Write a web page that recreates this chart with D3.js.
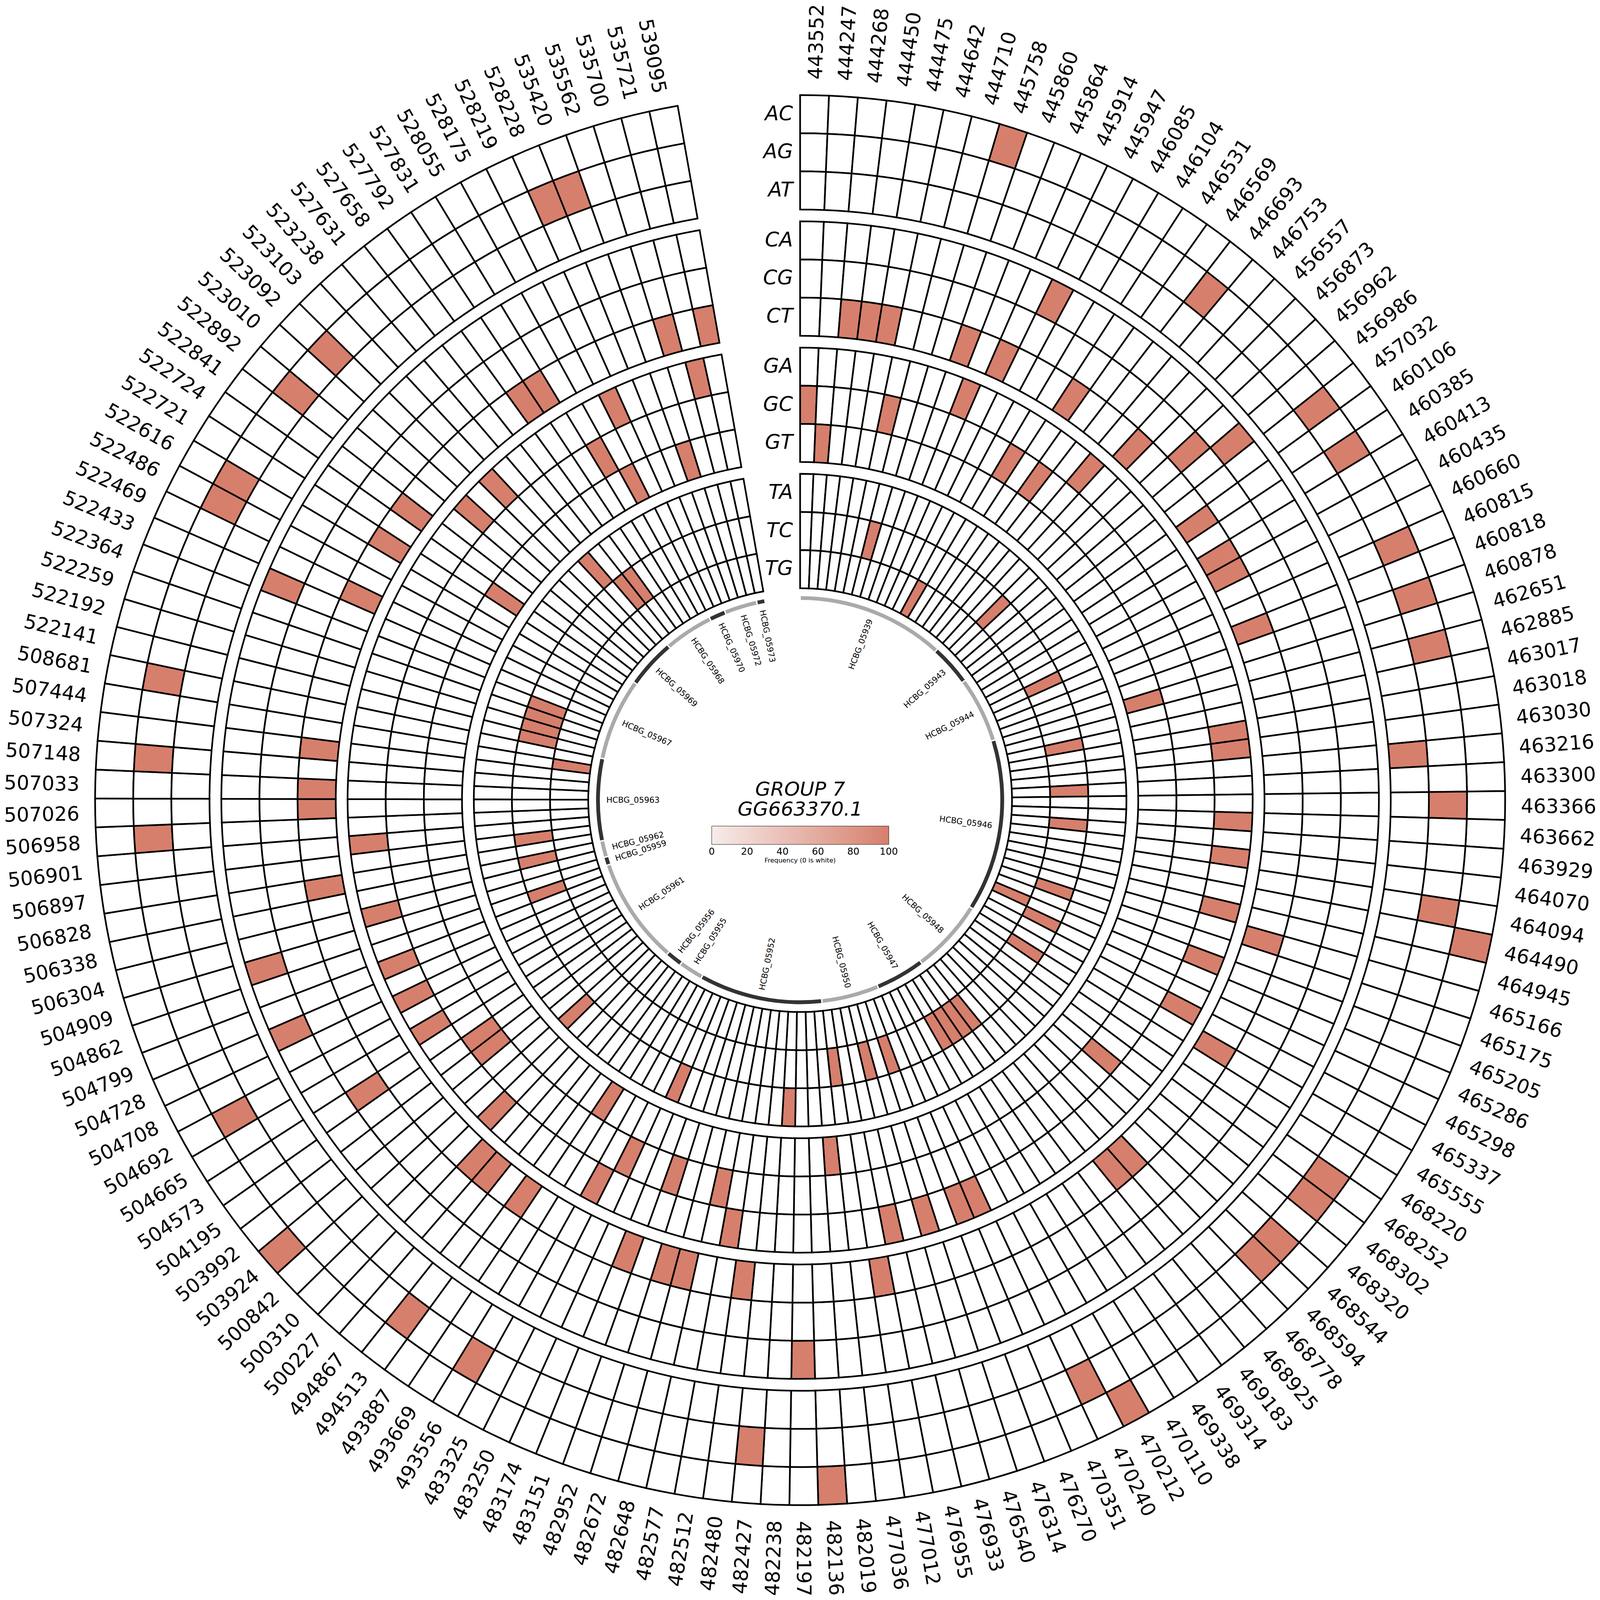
<!DOCTYPE html>
<html>
<head>
<meta charset="utf-8">
<script src="https://cdn.jsdelivr.net/npm/d3@7"></script>
<style>
html,body{margin:0;padding:0;background:#fff;width:100%;height:100%;overflow:hidden}
#chart{width:100vw;height:100vh}
svg{display:block;width:100vw;height:100vh}
text{font-family:"DejaVu Sans";fill:#000}
</style>
</head>
<body>
<div id="chart"></div>
<script>
// One frequency-100 substitution per position, in clockwise order.
const positions = [443552,444247,444268,444450,444475,444642,444710,445758,445860,445864,445914,445947,446085,446104,446531,446569,446693,446753,456557,456873,456962,456986,457032,460106,460385,460413,460435,460660,460815,460818,460878,462651,462885,463017,463018,463030,463216,463300,463366,463662,463929,464070,464094,464490,464945,465166,465175,465205,465286,465298,465337,465555,468220,468252,468302,468320,468544,468594,468778,468925,469183,469314,469338,470110,470212,470240,470351,476270,476314,476540,476933,476955,477012,477036,482019,482136,482197,482238,482427,482480,482512,482577,482648,482672,482952,483151,483174,483250,483325,493556,493669,493887,494513,494867,500227,500310,500842,503924,503992,504195,504573,504665,504692,504708,504728,504799,504862,504909,506304,506338,506828,506897,506901,506958,507026,507033,507148,507324,507444,508681,522141,522192,522259,522364,522433,522469,522486,522616,522721,522724,522841,522892,523010,523092,523103,523238,527631,527658,527792,527831,528055,528175,528219,528228,535420,535562,535700,535721,539095];
const substitutions = ["GC","GT","CT","CT","CT","GC","TC","AC","CT","GA","CT","CA","TG","GC","CT","GC","AG","GA","CT","TC","CG","CA","AG","CT","AG","CT","CT","TC","AG","CT","AG","GT","AG","TC","GA","GA","AT","TC","AG","GA","TC","GA","AG","AC","GA","CT","TC","GA","TG","TC","GA","CT","TC","AG","AG","GC","AG","AG","CT","CT","TC","TC","TC","TC","AC","AG","GA","GA","TC","GA","TC","GA","CT","TC","GT","AC","CA","TA","AG","CT","GA","GC","CT","CT","GC","CT","TA","GC","GA","AG","GT","CT","AG","CT","CT","GA","TA","AC","GC","GC","CG","GA","AG","GA","CA","GA","TC","CA","GA","TC","CT","TC","GA","AG","CT","CT","AG","CT","TG","AG","TC","TC","TC","TC","CA","CT","AG","AG","CT","GT","CT","AG","GA","AG","GA","TA","TC","TC","CT","CT","GC","GT","GA","AG","AG","GT","CT","GA","CT"];
const frequency = 100;
const rowGroups = [["AC","AG","AT"],["CA","CG","CT"],["GA","GC","GT"],["TA","TC","TG"]];
const geneNames = ["HCBG_05939","HCBG_05943","HCBG_05944","HCBG_05946","HCBG_05948","HCBG_05947","HCBG_05950","HCBG_05952","HCBG_05955","HCBG_05956","HCBG_05961","HCBG_05959","HCBG_05962","HCBG_05963","HCBG_05967","HCBG_05969","HCBG_05968","HCBG_05970","HCBG_05972","HCBG_05973"];
const genePositionCounts = [18,5,8,21,9,6,7,15,3,2,13,1,2,10,10,6,6,2,4,1];
const colorbarTicks = [0,20,40,60,80,100];
const titleLines = ["GROUP 7","GG663370.1"];

const S = 6713, C = 3357;
const deg = Math.PI/180;
const svg = d3.select("#chart").append("svg").attr("viewBox",`0 0 ${S} ${S}`).attr("preserveAspectRatio","xMidYMid meet");
const g = svg.append("g").attr("transform",`translate(${C},${C})`);

const angle = d3.scaleLinear().domain([0,positions.length]).range([0,350]);
const color = d3.scaleLinear().domain([0,100]).range(["#f7ecea","#d67f6c"]);
const groupOuter = d3.scaleLinear().domain([0,3]).range([2958,1369]);
const rowH = 160;
const arc = d3.arc();

// heatmap cells
rowGroups.forEach((rows,gi)=>{
  rows.forEach((row,ri)=>{
    const outer = groupOuter(gi) - ri*rowH, inner = outer - rowH;
    g.append("g").selectAll("path").data(positions).join("path")
      .attr("d",(p,i)=>arc({innerRadius:inner,outerRadius:outer,startAngle:angle(i)*deg,endAngle:angle(i+1)*deg}))
      .attr("fill",(p,i)=>substitutions[i]===row ? color(frequency) : "#fff")
      .attr("stroke","#000").attr("stroke-width",7).attr("stroke-linejoin","miter");
    g.append("text").text(row)
      .attr("x",-30).attr("y",-(outer-rowH/2)-6).attr("dy","0.365em")
      .attr("text-anchor","end").attr("font-size",85).attr("font-style","italic");
  });
});

// position labels
const radial = (a,r)=>[r*Math.sin(a*deg),-r*Math.cos(a*deg)];
g.append("g").selectAll("text").data(positions).join("text")
  .text(d=>d)
  .attr("font-size",83).attr("dy","0.365em")
  .attr("text-anchor",(p,i)=>angle(i+.5)<180?"start":"end")
  .attr("transform",(p,i)=>{
    const a=angle(i+.5), [x,y]=radial(a,3024);
    return `translate(${x},${y}) rotate(${a<180?a-90:a+90})`;
  });

// gene ring
let cum = 0;
const genes = geneNames.map((name,i)=>{const d={name,start:cum,end:cum+genePositionCounts[i],i};cum=d.end;return d;});
g.append("g").selectAll("path").data(genes).join("path")
  .attr("d",d=>arc({innerRadius:840,outerRadius:856,startAngle:(angle(d.start)+0.2)*deg,endAngle:(angle(d.end)-0.2)*deg}))
  .attr("fill",d=>d.i%2?"#333333":"#aaaaaa");
g.append("g").selectAll("text").data(genes).join("text")
  .text(d=>d.name)
  .attr("font-size",34).attr("dy","0.365em")
  .attr("text-anchor",d=>angle((d.start+d.end)/2)<180?"end":"start")
  .attr("transform",d=>{
    const a=angle((d.start+d.end)/2), [x,y]=radial(a,813);
    return `translate(${x},${y}) rotate(${a<180?a-90:a+90})`;
  });

// title
g.append("g").selectAll("text").data(titleLines).join("text")
  .text(d=>d).attr("text-anchor","middle").attr("font-size",83).attr("font-style","italic")
  .attr("x",0).attr("y",(d,i)=>-19+i*84);

// colorbar
const cbX = d3.scaleLinear().domain([0,100]).range([-371,372]);
const defs = svg.append("defs");
const lg = defs.append("linearGradient").attr("id","cb");
lg.selectAll("stop").data(colorbarTicks).join("stop")
  .attr("offset",d=>d+"%").attr("stop-color",d=>color(d));
g.append("rect").attr("x",cbX(0)).attr("y",109).attr("width",cbX(100)-cbX(0)).attr("height",77)
  .attr("fill","url(#cb)").attr("stroke","#000").attr("stroke-width",1.5);
g.append("g").selectAll("text").data(colorbarTicks).join("text")
  .text(d=>d).attr("x",d=>cbX(d)).attr("y",229).attr("text-anchor","middle").attr("font-size",40);
g.append("text").text("Frequency (0 is white)").attr("x",0).attr("y",262)
  .attr("text-anchor","middle").attr("font-size",27);
</script>
</body>
</html>
